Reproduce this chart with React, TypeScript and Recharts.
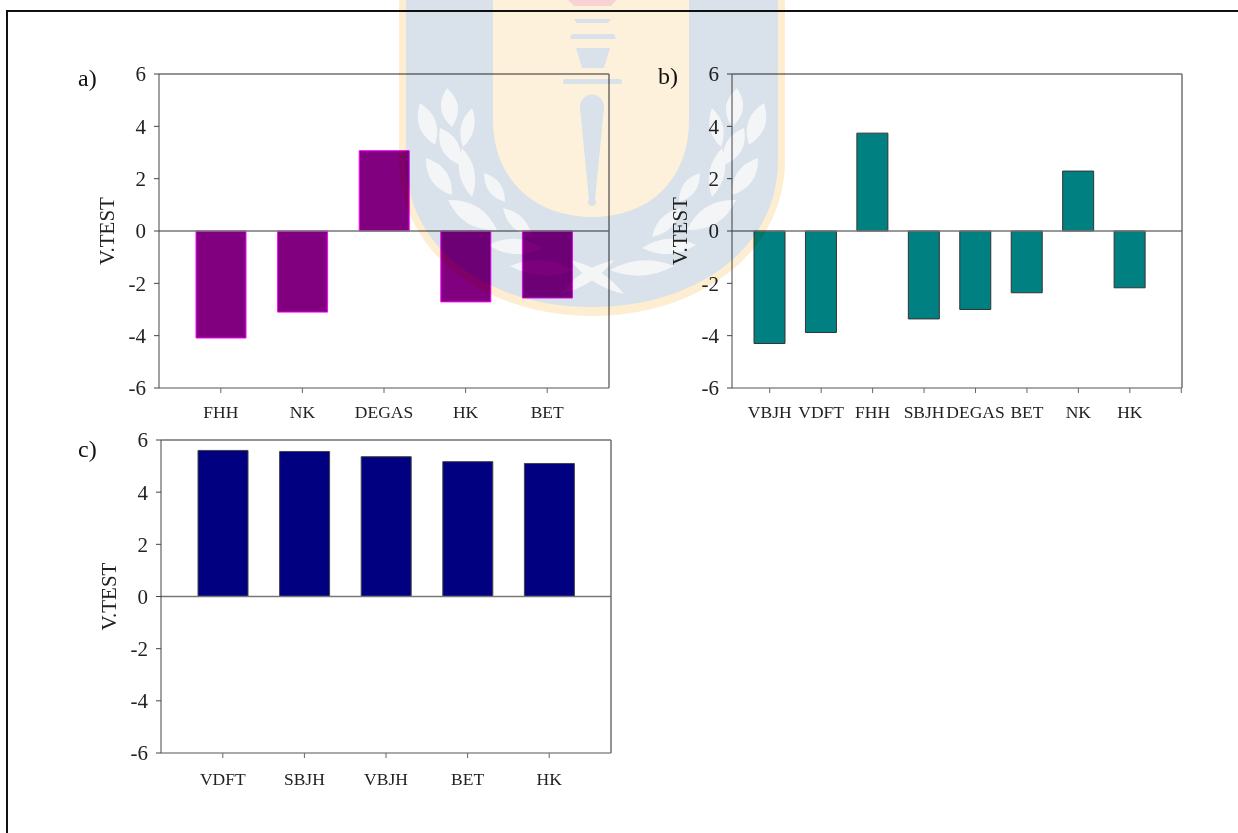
import React from 'react';
import { BarChart, Bar, XAxis, YAxis, ReferenceLine } from 'recharts';

const FONT = '"Liberation Serif", "Times New Roman", serif';
const yTicks = [-6, -4, -2, 0, 2, 4, 6];

const catsA = ['FHH', 'NK', 'DEGAS', 'HK', 'BET'];
const valsA = [-4.09, -3.1, 3.07, -2.71, -2.56];

// panel b has one trailing empty category, the original axis ends on an extra tick
const catsB = ['VBJH', 'VDFT', 'FHH', 'SBJH', 'DEGAS', 'BET', 'NK', 'HK', ''];
const valsB = [-4.3, -3.88, 3.74, -3.36, -3.0, -2.36, 2.29, -2.17, null];

const catsC = ['VDFT', 'SBJH', 'VBJH', 'BET', 'HK'];
const valsC = [5.6, 5.56, 5.36, 5.17, 5.1];

const toRows = (cats: string[], vals: (number | null)[]) =>
  cats.map((name, i) => ({ name, value: vals[i] }));

interface PanelProps {
  letter: string;
  cats: string[];
  vals: (number | null)[];
  left: number;
  top: number;
  plotH: number;
  fill: string;
  stroke: string;
  barSize: number;
  padding: { left: number; right: number };
  letterX: number;
  letterY: number;
  xMargin: number;
}

const Y_AXIS_W = 99;
const PLOT_W = 450;

const Panel: React.FC<PanelProps> = (p) => (
  <>
    <div style={{ position: 'absolute', left: p.letterX, top: p.letterY, fontFamily: FONT, fontSize: 24, color: '#111' }}>
      {p.letter}
    </div>
    <div style={{ position: 'absolute', left: p.left, top: p.top }}>
      <BarChart
        width={Y_AXIS_W + PLOT_W + 10}
        height={24 + p.plotH + 50}
        data={toRows(p.cats, p.vals)}
        margin={{ top: 24, right: 9, bottom: 0, left: 0 }}
      >
        <XAxis
          dataKey="name"
          interval={0}
          height={50}
          padding={p.padding}
          stroke="#555"
          tickLine={{ stroke: '#666' }}
          tickSize={5}
          tickMargin={p.xMargin}
          tick={{ fontFamily: FONT, fontSize: 17.5, fill: '#222' }}
        />
        <YAxis
          width={Y_AXIS_W}
          domain={[-6, 6]}
          ticks={yTicks}
          interval={0}
          stroke="#444"
          tickSize={5}
          tickMargin={8}
          tick={{ fontFamily: FONT, fontSize: 21, fill: '#222' }}
          label={{
            value: 'V.TEST',
            angle: -90,
            position: 'insideLeft',
            offset: 47,
            style: { fontFamily: FONT, fontSize: 21, fill: '#222', textAnchor: 'middle' },
          }}
        />
        {/* right hand frame of the plot */}
        <YAxis yAxisId="frame" orientation="right" width={1} domain={[-6, 6]} ticks={yTicks} tick={false} tickLine={false} stroke="#707070" strokeWidth={1.5} />
        <Bar dataKey="value" fill={p.fill} stroke={p.stroke} strokeWidth={1} barSize={p.barSize} isAnimationActive={false} />
        <ReferenceLine y={6} stroke="#707070" strokeWidth={1.5} />
        <ReferenceLine y={0} stroke="#777" strokeWidth={1.5} />
      </BarChart>
    </div>
  </>
);

// [x1, y1, x2, y2, bulge] of the laurel leaves in the background crest
const leaves = [
  [447, 88, 452, 127, 9], [420, 103, 435, 145, 9], [472, 108, 463, 147, -7], [440, 128, 460, 165, 9],
  [426, 158, 452, 195, 9], [462, 148, 472, 197, 8], [484, 173, 505, 202, 7], [448, 200, 497, 230, 10],
  [503, 208, 532, 237, 7], [488, 245, 542, 248, 8], [510, 266, 574, 270, 8], [570, 260, 624, 294, 6],
];

const leafPath = ([x1, y1, x2, y2, b]: number[]) => {
  const dx = x2 - x1;
  const dy = y2 - y1;
  const len = Math.hypot(dx, dy);
  const nx = (-dy / len) * b * 1.9;
  const ny = (dx / len) * b * 1.9;
  const mx = (x1 + x2) / 2;
  const my = (y1 + y2) / 2;
  return `M${x1},${y1} Q${mx + nx},${my + ny} ${x2},${y2} Q${mx - nx},${my - ny} ${x1},${y1} Z`;
};

const Crest = () => (
  <svg
    width={1238}
    height={833}
    style={{ position: 'absolute', left: 0, top: 0, mixBlendMode: 'multiply', pointerEvents: 'none' }}
  >
    <path d="M399,-5 V160 C399,255 488,316 592,316 C696,316 785,255 785,160 V-5 Z" fill="#fdeed2" />
    <path d="M406,-5 V160 C406,250 490,307 592,307 C694,307 778,250 778,160 V-5 Z" fill="#d9e1ea" />
    <path d="M493,-5 V120 C493,180 535,217 592,217 C649,217 689,180 689,120 V-5 Z" fill="#fef1dc" />
    <path d="M566,-2 H618 L611,6 H574 Z" fill="#f9d3d3" />
    <path d="M574,19 H611 L608,23 H577 Z" fill="#d9e1ea" />
    <path d="M572,34 H614 L616,39 H570 Z" fill="#d9e1ea" />
    <path d="M576,48 H610 L604,68 H582 Z" fill="#d9e1ea" />
    <rect x={563} y={79} width={59} height={5} rx={2.5} fill="#d9e1ea" />
    <path d="M580,108 C580,90 604,90 604,108 L595,200 H589 Z" fill="#d9e1ea" />
    <circle cx={592} cy={202} r={4} fill="#d9e1ea" />
    <g fill="#f3f5f7">
      {leaves.map((l, i) => <path key={i} d={leafPath(l)} />)}
      <g transform="translate(1184,0) scale(-1,1)">
        {leaves.map((l, i) => <path key={i} d={leafPath(l)} />)}
      </g>
    </g>
  </svg>
);

const App = () => (
  <div style={{ position: 'fixed', left: 0, top: 0, width: 1238, height: 833, background: '#fff', overflow: 'hidden' }}>
    <div style={{ position: 'absolute', left: 6, top: 10, width: 1240, height: 830, borderLeft: '2px solid #111', borderTop: '2px solid #111' }} />
    <Panel letter="a)" cats={catsA} vals={valsA} left={60} top={50} plotH={314} fill="#800080" stroke="#ff00ff"
      barSize={50} padding={{ left: 21, right: 21 }} letterX={78} letterY={65} xMargin={13} />
    <Panel letter="b)" cats={catsB} vals={valsB} left={633} top={50} plotH={314} fill="#008080" stroke="#333"
      barSize={31} padding={{ left: 12, right: -25 }} letterX={658} letterY={63} xMargin={13} />
    <Panel letter="c)" cats={catsC} vals={valsC} left={62} top={416} plotH={313} fill="#000080" stroke="#444"
      barSize={50} padding={{ left: 21, right: 21 }} letterX={78} letterY={436} xMargin={15} />
    <Crest />
  </div>
);

export default App;
